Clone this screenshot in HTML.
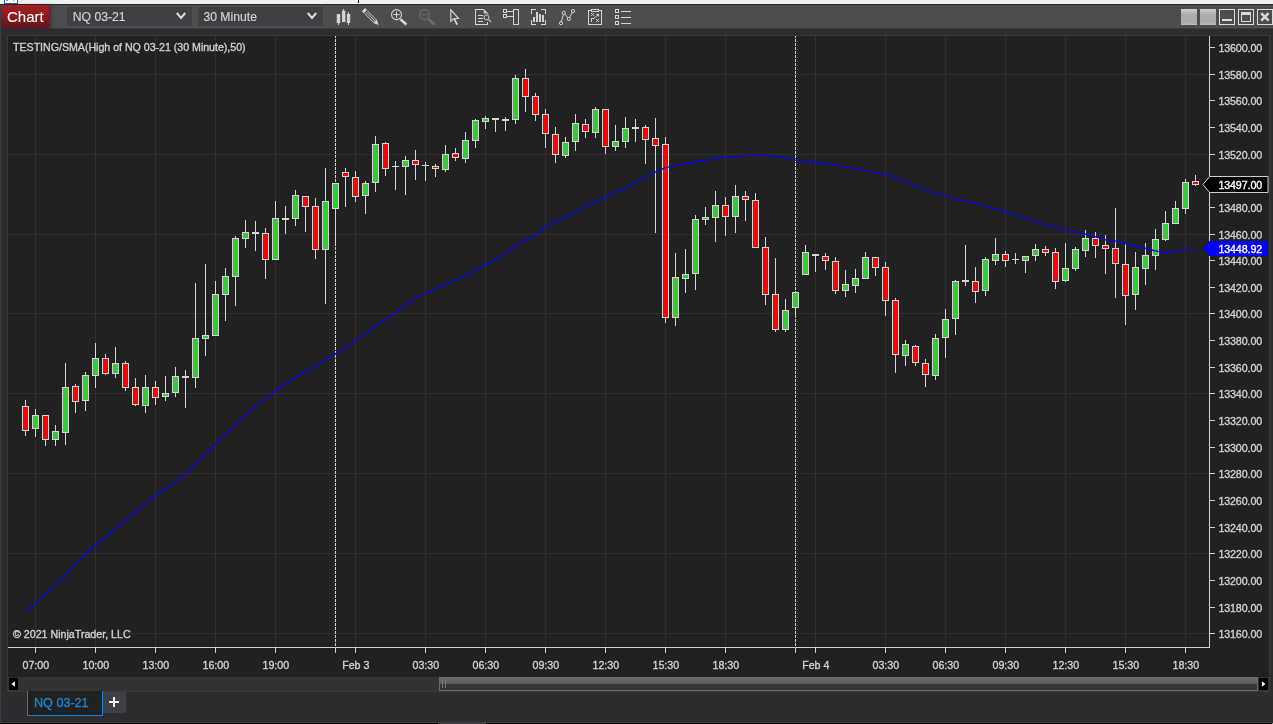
<!DOCTYPE html>
<html lang="en"><head><meta charset="utf-8"><title>Chart - NQ 03-21</title>
<style>

html,body{margin:0;padding:0;background:#2d2d30;}
body{width:1273px;height:724px;position:relative;overflow:hidden;font-family:"Liberation Sans",Arial,sans-serif;color:#cfcfcf;}
#root{position:absolute;left:0;top:0;width:1273px;height:724px;overflow:hidden;background:#2d2d30;}
.abs{position:absolute;}
.t{position:absolute;white-space:nowrap;line-height:1;-webkit-text-stroke:0.35px currentColor;}
.ax{font-size:10.67px;letter-spacing:-0.1px;color:#cfcfcf;}
.tl{font-size:10.67px;color:#cfcfcf;text-align:center;width:60px;margin-left:-30px;}
svg{position:absolute;left:0;top:0;}

</style></head><body><div id="root">
<div class="abs" style="left:0;top:0;width:1273px;height:4px;background:#f0f0f0"></div>
<div class="abs" style="left:4px;top:-6px;width:12px;height:8px;border:1px solid #0a6fd6;background:#fff"></div>
<div class="abs" style="left:6px;top:0;width:2px;height:1px;background:#ff7a3a"></div>
<div class="abs" style="left:13px;top:0;width:1px;height:1px;background:#ff7a3a"></div>
<div class="abs" style="left:358px;top:0;width:1px;height:3px;background:#000"></div>
<div class="abs" style="left:0;top:4px;width:1273px;height:1px;background:#2a2a2c"></div>
<div class="abs" style="left:0;top:5px;width:1273px;height:23px;background:#4d4d4d"></div>
<div class="abs" style="left:0;top:28px;width:1273px;height:1px;background:#3a3a3d"></div>
<div class="abs" style="left:0;top:4px;width:1px;height:720px;background:#3f3f44"></div>
<div class="abs" style="left:1px;top:5px;width:48px;height:23px;background:linear-gradient(#a41e22,#8c1a1f 45%,#62151a);box-shadow:2px 0 3px rgba(0,0,0,.35)"></div>
<div class="t" style="left:7px;top:8.5px;font-size:15px;color:#fff;-webkit-text-stroke:0.1px #fff;">Chart</div>
<div class="abs" style="left:67px;top:7px;width:125px;height:19px;background:#3f3f46"></div>
<div class="t" style="left:72.8px;top:11px;font-size:12.2px;color:#d4d4d4;-webkit-text-stroke:0.15px currentColor;">NQ 03-21</div>
<div class="abs" style="left:198px;top:7px;width:125px;height:19px;background:#3f3f46"></div>
<div class="t" style="left:203.4px;top:11px;font-size:12.2px;color:#d4d4d4;-webkit-text-stroke:0.15px currentColor;">30 Minute</div>
<div class="abs" style="left:7px;top:35px;width:1263px;height:657px;background:#3a3a3c"></div>
<div class="abs" style="left:8px;top:36px;width:1261px;height:641px;background:#212121"></div>
<div class="abs" style="left:8px;top:677px;width:1261px;height:14px;background:#333333"></div>
<div class="abs" style="left:9px;top:678px;width:9px;height:12px;background:#000"></div>
<div class="abs" style="left:1259px;top:678px;width:9px;height:12px;background:#000"></div>
<div class="abs" style="left:439px;top:677px;width:819px;height:14px;box-sizing:border-box;border:1px solid #6a6a6a;background:linear-gradient(#6b6b6b 0,#595959 49%,#363636 50%,#343434 100%)"></div>
<div class="abs" style="left:27px;top:691px;width:76px;height:25px;box-sizing:border-box;border:1px solid #1383d6;border-top:none;background:#212121"></div>
<div class="t" style="left:34px;top:697px;font-size:12.6px;color:#1787dc;">NQ 03-21</div>
<div class="abs" style="left:103px;top:692px;width:23px;height:21px;background:#3f3f46"></div>
<div class="abs" style="left:0;top:722px;width:1272px;height:1px;background:#404044"></div>
<div class="abs" style="left:0;top:723px;width:1272px;height:1px;background:#000"></div>
<div class="abs" style="left:1272px;top:723px;width:1px;height:1px;background:#8a8a8a"></div>
<div class="abs" style="left:438px;top:723px;width:48px;height:1px;background:#3a3a3c"></div>
<div class="abs" style="left:1181px;top:9px;width:16px;height:16px;background:linear-gradient(#cfcfcf 0,#afabab 35%,#aeaaaa 85%,#c2c0c0 100%)"></div>
<div class="abs" style="left:1200px;top:9px;width:16px;height:16px;background:linear-gradient(#cfcfcf 0,#afabab 35%,#aeaaaa 85%,#c2c0c0 100%)"></div>
<svg width="1273" height="724" viewBox="0 0 1273 724">
<g shape-rendering="crispEdges">
<rect x="35" y="36" width="1" height="611" fill="#2f2f31"/>
<rect x="95" y="36" width="1" height="611" fill="#2f2f31"/>
<rect x="155" y="36" width="1" height="611" fill="#2f2f31"/>
<rect x="215" y="36" width="1" height="611" fill="#2f2f31"/>
<rect x="275" y="36" width="1" height="611" fill="#2f2f31"/>
<rect x="355" y="36" width="1" height="611" fill="#2f2f31"/>
<rect x="425" y="36" width="1" height="611" fill="#2f2f31"/>
<rect x="485" y="36" width="1" height="611" fill="#2f2f31"/>
<rect x="545" y="36" width="1" height="611" fill="#2f2f31"/>
<rect x="605" y="36" width="1" height="611" fill="#2f2f31"/>
<rect x="665" y="36" width="1" height="611" fill="#2f2f31"/>
<rect x="725" y="36" width="1" height="611" fill="#2f2f31"/>
<rect x="815" y="36" width="1" height="611" fill="#2f2f31"/>
<rect x="885" y="36" width="1" height="611" fill="#2f2f31"/>
<rect x="945" y="36" width="1" height="611" fill="#2f2f31"/>
<rect x="1005" y="36" width="1" height="611" fill="#2f2f31"/>
<rect x="1065" y="36" width="1" height="611" fill="#2f2f31"/>
<rect x="1125" y="36" width="1" height="611" fill="#2f2f31"/>
<rect x="1185" y="36" width="1" height="611" fill="#2f2f31"/>
<rect x="8" y="74" width="1201" height="1" fill="#2f2f31"/>
<rect x="8" y="154" width="1201" height="1" fill="#2f2f31"/>
<rect x="8" y="234" width="1201" height="1" fill="#2f2f31"/>
<rect x="8" y="313" width="1201" height="1" fill="#2f2f31"/>
<rect x="8" y="393" width="1201" height="1" fill="#2f2f31"/>
<rect x="8" y="473" width="1201" height="1" fill="#2f2f31"/>
<rect x="8" y="553" width="1201" height="1" fill="#2f2f31"/>
<rect x="8" y="633" width="1201" height="1" fill="#2f2f31"/>
<line x1="335.5" y1="36" x2="335.5" y2="647" stroke="#cfcfcf" stroke-width="1" stroke-dasharray="3 1" stroke-dashoffset="1"/>
<line x1="795.5" y1="36" x2="795.5" y2="647" stroke="#cfcfcf" stroke-width="1" stroke-dasharray="3 1" stroke-dashoffset="1"/>
</g>
<g shape-rendering="crispEdges">
<rect x="25" y="400" width="1" height="36" fill="#d6d6d6"/>
<rect x="22" y="406" width="7" height="25" fill="#d6d6d6"/>
<rect x="23" y="407" width="5" height="23" fill="#ff0000"/>
<rect x="35" y="409" width="1" height="28" fill="#d6d6d6"/>
<rect x="32" y="415" width="7" height="14" fill="#d6d6d6"/>
<rect x="33" y="416" width="5" height="12" fill="#32cd32"/>
<rect x="45" y="415" width="1" height="31" fill="#d6d6d6"/>
<rect x="42" y="415" width="7" height="25" fill="#d6d6d6"/>
<rect x="43" y="416" width="5" height="23" fill="#ff0000"/>
<rect x="55" y="425" width="1" height="21" fill="#d6d6d6"/>
<rect x="52" y="431" width="7" height="9" fill="#d6d6d6"/>
<rect x="53" y="432" width="5" height="7" fill="#32cd32"/>
<rect x="65" y="363" width="1" height="82" fill="#d6d6d6"/>
<rect x="62" y="387" width="7" height="46" fill="#d6d6d6"/>
<rect x="63" y="388" width="5" height="44" fill="#32cd32"/>
<rect x="75" y="384" width="1" height="29" fill="#d6d6d6"/>
<rect x="72" y="386" width="7" height="16" fill="#d6d6d6"/>
<rect x="73" y="387" width="5" height="14" fill="#ff0000"/>
<rect x="85" y="372" width="1" height="39" fill="#d6d6d6"/>
<rect x="82" y="375" width="7" height="26" fill="#d6d6d6"/>
<rect x="83" y="376" width="5" height="24" fill="#32cd32"/>
<rect x="95" y="343" width="1" height="45" fill="#d6d6d6"/>
<rect x="92" y="358" width="7" height="18" fill="#d6d6d6"/>
<rect x="93" y="359" width="5" height="16" fill="#32cd32"/>
<rect x="105" y="354" width="1" height="21" fill="#d6d6d6"/>
<rect x="102" y="358" width="7" height="16" fill="#d6d6d6"/>
<rect x="103" y="359" width="5" height="14" fill="#ff0000"/>
<rect x="115" y="347" width="1" height="31" fill="#d6d6d6"/>
<rect x="112" y="363" width="7" height="11" fill="#d6d6d6"/>
<rect x="113" y="364" width="5" height="9" fill="#32cd32"/>
<rect x="125" y="361" width="1" height="30" fill="#d6d6d6"/>
<rect x="122" y="363" width="7" height="25" fill="#d6d6d6"/>
<rect x="123" y="364" width="5" height="23" fill="#ff0000"/>
<rect x="135" y="378" width="1" height="28" fill="#d6d6d6"/>
<rect x="132" y="387" width="7" height="18" fill="#d6d6d6"/>
<rect x="133" y="388" width="5" height="16" fill="#ff0000"/>
<rect x="145" y="375" width="1" height="38" fill="#d6d6d6"/>
<rect x="142" y="387" width="7" height="19" fill="#d6d6d6"/>
<rect x="143" y="388" width="5" height="17" fill="#32cd32"/>
<rect x="155" y="381" width="1" height="24" fill="#d6d6d6"/>
<rect x="152" y="387" width="7" height="11" fill="#d6d6d6"/>
<rect x="153" y="388" width="5" height="9" fill="#ff0000"/>
<rect x="165" y="376" width="1" height="25" fill="#d6d6d6"/>
<rect x="162" y="393" width="7" height="4" fill="#d6d6d6"/>
<rect x="163" y="394" width="5" height="2" fill="#32cd32"/>
<rect x="175" y="367" width="1" height="30" fill="#d6d6d6"/>
<rect x="172" y="376" width="7" height="17" fill="#d6d6d6"/>
<rect x="173" y="377" width="5" height="15" fill="#32cd32"/>
<rect x="185" y="370" width="1" height="38" fill="#d6d6d6"/>
<rect x="182" y="376" width="7" height="2" fill="#d6d6d6"/>
<rect x="195" y="283" width="1" height="105" fill="#d6d6d6"/>
<rect x="192" y="338" width="7" height="40" fill="#d6d6d6"/>
<rect x="193" y="339" width="5" height="38" fill="#32cd32"/>
<rect x="205" y="264" width="1" height="92" fill="#d6d6d6"/>
<rect x="202" y="335" width="7" height="4" fill="#d6d6d6"/>
<rect x="203" y="336" width="5" height="2" fill="#32cd32"/>
<rect x="215" y="281" width="1" height="55" fill="#d6d6d6"/>
<rect x="212" y="294" width="7" height="42" fill="#d6d6d6"/>
<rect x="213" y="295" width="5" height="40" fill="#32cd32"/>
<rect x="225" y="268" width="1" height="53" fill="#d6d6d6"/>
<rect x="222" y="276" width="7" height="19" fill="#d6d6d6"/>
<rect x="223" y="277" width="5" height="17" fill="#32cd32"/>
<rect x="235" y="236" width="1" height="70" fill="#d6d6d6"/>
<rect x="232" y="238" width="7" height="39" fill="#d6d6d6"/>
<rect x="233" y="239" width="5" height="37" fill="#32cd32"/>
<rect x="245" y="220" width="1" height="28" fill="#d6d6d6"/>
<rect x="242" y="232" width="7" height="7" fill="#d6d6d6"/>
<rect x="243" y="233" width="5" height="5" fill="#32cd32"/>
<rect x="255" y="221" width="1" height="30" fill="#d6d6d6"/>
<rect x="252" y="232" width="7" height="2" fill="#d6d6d6"/>
<rect x="265" y="228" width="1" height="51" fill="#d6d6d6"/>
<rect x="262" y="233" width="7" height="27" fill="#d6d6d6"/>
<rect x="263" y="234" width="5" height="25" fill="#ff0000"/>
<rect x="275" y="201" width="1" height="59" fill="#d6d6d6"/>
<rect x="272" y="218" width="7" height="42" fill="#d6d6d6"/>
<rect x="273" y="219" width="5" height="40" fill="#32cd32"/>
<rect x="285" y="206" width="1" height="28" fill="#d6d6d6"/>
<rect x="282" y="218" width="7" height="2" fill="#d6d6d6"/>
<rect x="295" y="190" width="1" height="36" fill="#d6d6d6"/>
<rect x="292" y="195" width="7" height="24" fill="#d6d6d6"/>
<rect x="293" y="196" width="5" height="22" fill="#32cd32"/>
<rect x="305" y="196" width="1" height="36" fill="#d6d6d6"/>
<rect x="302" y="196" width="7" height="11" fill="#d6d6d6"/>
<rect x="303" y="197" width="5" height="9" fill="#ff0000"/>
<rect x="315" y="198" width="1" height="61" fill="#d6d6d6"/>
<rect x="312" y="206" width="7" height="44" fill="#d6d6d6"/>
<rect x="313" y="207" width="5" height="42" fill="#ff0000"/>
<rect x="325" y="168" width="1" height="136" fill="#d6d6d6"/>
<rect x="322" y="201" width="7" height="49" fill="#d6d6d6"/>
<rect x="323" y="202" width="5" height="47" fill="#32cd32"/>
<rect x="335" y="183" width="1" height="63" fill="#d6d6d6"/>
<rect x="332" y="183" width="7" height="26" fill="#d6d6d6"/>
<rect x="333" y="184" width="5" height="24" fill="#32cd32"/>
<rect x="345" y="168" width="1" height="39" fill="#d6d6d6"/>
<rect x="342" y="172" width="7" height="5" fill="#d6d6d6"/>
<rect x="343" y="173" width="5" height="3" fill="#ff0000"/>
<rect x="355" y="171" width="1" height="31" fill="#d6d6d6"/>
<rect x="352" y="177" width="7" height="20" fill="#d6d6d6"/>
<rect x="353" y="178" width="5" height="18" fill="#ff0000"/>
<rect x="365" y="181" width="1" height="33" fill="#d6d6d6"/>
<rect x="362" y="183" width="7" height="13" fill="#d6d6d6"/>
<rect x="363" y="184" width="5" height="11" fill="#32cd32"/>
<rect x="375" y="136" width="1" height="56" fill="#d6d6d6"/>
<rect x="372" y="144" width="7" height="39" fill="#d6d6d6"/>
<rect x="373" y="145" width="5" height="37" fill="#32cd32"/>
<rect x="385" y="142" width="1" height="34" fill="#d6d6d6"/>
<rect x="382" y="143" width="7" height="26" fill="#d6d6d6"/>
<rect x="383" y="144" width="5" height="24" fill="#ff0000"/>
<rect x="395" y="161" width="1" height="29" fill="#d6d6d6"/>
<rect x="392" y="166" width="7" height="1" fill="#d6d6d6"/>
<rect x="405" y="156" width="1" height="39" fill="#d6d6d6"/>
<rect x="402" y="160" width="7" height="7" fill="#d6d6d6"/>
<rect x="403" y="161" width="5" height="5" fill="#32cd32"/>
<rect x="415" y="150" width="1" height="30" fill="#d6d6d6"/>
<rect x="412" y="160" width="7" height="5" fill="#d6d6d6"/>
<rect x="413" y="161" width="5" height="3" fill="#ff0000"/>
<rect x="425" y="162" width="1" height="19" fill="#d6d6d6"/>
<rect x="422" y="165" width="7" height="1" fill="#d6d6d6"/>
<rect x="435" y="164" width="1" height="13" fill="#d6d6d6"/>
<rect x="432" y="166" width="7" height="3" fill="#d6d6d6"/>
<rect x="433" y="167" width="5" height="1" fill="#ff0000"/>
<rect x="445" y="145" width="1" height="27" fill="#d6d6d6"/>
<rect x="442" y="154" width="7" height="16" fill="#d6d6d6"/>
<rect x="443" y="155" width="5" height="14" fill="#32cd32"/>
<rect x="455" y="148" width="1" height="13" fill="#d6d6d6"/>
<rect x="452" y="153" width="7" height="5" fill="#d6d6d6"/>
<rect x="453" y="154" width="5" height="3" fill="#ff0000"/>
<rect x="465" y="132" width="1" height="31" fill="#d6d6d6"/>
<rect x="462" y="140" width="7" height="19" fill="#d6d6d6"/>
<rect x="463" y="141" width="5" height="17" fill="#32cd32"/>
<rect x="475" y="119" width="1" height="29" fill="#d6d6d6"/>
<rect x="472" y="120" width="7" height="21" fill="#d6d6d6"/>
<rect x="473" y="121" width="5" height="19" fill="#32cd32"/>
<rect x="485" y="116" width="1" height="13" fill="#d6d6d6"/>
<rect x="482" y="118" width="7" height="4" fill="#d6d6d6"/>
<rect x="483" y="119" width="5" height="2" fill="#32cd32"/>
<rect x="495" y="118" width="1" height="14" fill="#d6d6d6"/>
<rect x="492" y="118" width="7" height="2" fill="#d6d6d6"/>
<rect x="505" y="117" width="1" height="14" fill="#d6d6d6"/>
<rect x="502" y="119" width="7" height="2" fill="#d6d6d6"/>
<rect x="515" y="75" width="1" height="49" fill="#d6d6d6"/>
<rect x="512" y="78" width="7" height="42" fill="#d6d6d6"/>
<rect x="513" y="79" width="5" height="40" fill="#32cd32"/>
<rect x="525" y="69" width="1" height="43" fill="#d6d6d6"/>
<rect x="522" y="78" width="7" height="19" fill="#d6d6d6"/>
<rect x="523" y="79" width="5" height="17" fill="#ff0000"/>
<rect x="535" y="93" width="1" height="28" fill="#d6d6d6"/>
<rect x="532" y="96" width="7" height="19" fill="#d6d6d6"/>
<rect x="533" y="97" width="5" height="17" fill="#ff0000"/>
<rect x="545" y="109" width="1" height="39" fill="#d6d6d6"/>
<rect x="542" y="114" width="7" height="20" fill="#d6d6d6"/>
<rect x="543" y="115" width="5" height="18" fill="#ff0000"/>
<rect x="555" y="127" width="1" height="36" fill="#d6d6d6"/>
<rect x="552" y="134" width="7" height="21" fill="#d6d6d6"/>
<rect x="553" y="135" width="5" height="19" fill="#ff0000"/>
<rect x="565" y="137" width="1" height="21" fill="#d6d6d6"/>
<rect x="562" y="142" width="7" height="14" fill="#d6d6d6"/>
<rect x="563" y="143" width="5" height="12" fill="#32cd32"/>
<rect x="575" y="114" width="1" height="37" fill="#d6d6d6"/>
<rect x="572" y="123" width="7" height="19" fill="#d6d6d6"/>
<rect x="573" y="124" width="5" height="17" fill="#32cd32"/>
<rect x="585" y="119" width="1" height="19" fill="#d6d6d6"/>
<rect x="582" y="124" width="7" height="8" fill="#d6d6d6"/>
<rect x="583" y="125" width="5" height="6" fill="#ff0000"/>
<rect x="595" y="107" width="1" height="31" fill="#d6d6d6"/>
<rect x="592" y="109" width="7" height="24" fill="#d6d6d6"/>
<rect x="593" y="110" width="5" height="22" fill="#32cd32"/>
<rect x="605" y="109" width="1" height="45" fill="#d6d6d6"/>
<rect x="602" y="109" width="7" height="38" fill="#d6d6d6"/>
<rect x="603" y="110" width="5" height="36" fill="#ff0000"/>
<rect x="615" y="125" width="1" height="26" fill="#d6d6d6"/>
<rect x="612" y="141" width="7" height="6" fill="#d6d6d6"/>
<rect x="613" y="142" width="5" height="4" fill="#32cd32"/>
<rect x="625" y="117" width="1" height="31" fill="#d6d6d6"/>
<rect x="622" y="128" width="7" height="14" fill="#d6d6d6"/>
<rect x="623" y="129" width="5" height="12" fill="#32cd32"/>
<rect x="635" y="119" width="1" height="23" fill="#d6d6d6"/>
<rect x="632" y="127" width="7" height="2" fill="#d6d6d6"/>
<rect x="645" y="125" width="1" height="39" fill="#d6d6d6"/>
<rect x="642" y="127" width="7" height="13" fill="#d6d6d6"/>
<rect x="643" y="128" width="5" height="11" fill="#ff0000"/>
<rect x="655" y="118" width="1" height="115" fill="#d6d6d6"/>
<rect x="652" y="138" width="7" height="8" fill="#d6d6d6"/>
<rect x="653" y="139" width="5" height="6" fill="#ff0000"/>
<rect x="665" y="137" width="1" height="186" fill="#d6d6d6"/>
<rect x="662" y="144" width="7" height="174" fill="#d6d6d6"/>
<rect x="663" y="145" width="5" height="172" fill="#ff0000"/>
<rect x="675" y="253" width="1" height="73" fill="#d6d6d6"/>
<rect x="672" y="277" width="7" height="41" fill="#d6d6d6"/>
<rect x="673" y="278" width="5" height="39" fill="#32cd32"/>
<rect x="685" y="249" width="1" height="44" fill="#d6d6d6"/>
<rect x="682" y="274" width="7" height="5" fill="#d6d6d6"/>
<rect x="683" y="275" width="5" height="3" fill="#32cd32"/>
<rect x="695" y="215" width="1" height="75" fill="#d6d6d6"/>
<rect x="692" y="219" width="7" height="55" fill="#d6d6d6"/>
<rect x="693" y="220" width="5" height="53" fill="#32cd32"/>
<rect x="705" y="207" width="1" height="18" fill="#d6d6d6"/>
<rect x="702" y="217" width="7" height="3" fill="#d6d6d6"/>
<rect x="703" y="218" width="5" height="1" fill="#32cd32"/>
<rect x="715" y="191" width="1" height="51" fill="#d6d6d6"/>
<rect x="712" y="205" width="7" height="13" fill="#d6d6d6"/>
<rect x="713" y="206" width="5" height="11" fill="#32cd32"/>
<rect x="725" y="197" width="1" height="39" fill="#d6d6d6"/>
<rect x="722" y="205" width="7" height="12" fill="#d6d6d6"/>
<rect x="723" y="206" width="5" height="10" fill="#ff0000"/>
<rect x="735" y="185" width="1" height="48" fill="#d6d6d6"/>
<rect x="732" y="196" width="7" height="21" fill="#d6d6d6"/>
<rect x="733" y="197" width="5" height="19" fill="#32cd32"/>
<rect x="745" y="191" width="1" height="30" fill="#d6d6d6"/>
<rect x="742" y="196" width="7" height="4" fill="#d6d6d6"/>
<rect x="743" y="197" width="5" height="2" fill="#ff0000"/>
<rect x="755" y="193" width="1" height="55" fill="#d6d6d6"/>
<rect x="752" y="200" width="7" height="48" fill="#d6d6d6"/>
<rect x="753" y="201" width="5" height="46" fill="#ff0000"/>
<rect x="765" y="237" width="1" height="68" fill="#d6d6d6"/>
<rect x="762" y="247" width="7" height="48" fill="#d6d6d6"/>
<rect x="763" y="248" width="5" height="46" fill="#ff0000"/>
<rect x="775" y="258" width="1" height="74" fill="#d6d6d6"/>
<rect x="772" y="294" width="7" height="36" fill="#d6d6d6"/>
<rect x="773" y="295" width="5" height="34" fill="#ff0000"/>
<rect x="785" y="299" width="1" height="33" fill="#d6d6d6"/>
<rect x="782" y="310" width="7" height="20" fill="#d6d6d6"/>
<rect x="783" y="311" width="5" height="18" fill="#32cd32"/>
<rect x="795" y="292" width="1" height="26" fill="#d6d6d6"/>
<rect x="792" y="292" width="7" height="16" fill="#d6d6d6"/>
<rect x="793" y="293" width="5" height="14" fill="#32cd32"/>
<rect x="805" y="245" width="1" height="30" fill="#d6d6d6"/>
<rect x="802" y="252" width="7" height="23" fill="#d6d6d6"/>
<rect x="803" y="253" width="5" height="21" fill="#32cd32"/>
<rect x="815" y="254" width="1" height="18" fill="#d6d6d6"/>
<rect x="812" y="254" width="7" height="2" fill="#d6d6d6"/>
<rect x="825" y="253" width="1" height="17" fill="#d6d6d6"/>
<rect x="822" y="256" width="7" height="5" fill="#d6d6d6"/>
<rect x="823" y="257" width="5" height="3" fill="#ff0000"/>
<rect x="835" y="257" width="1" height="37" fill="#d6d6d6"/>
<rect x="832" y="261" width="7" height="30" fill="#d6d6d6"/>
<rect x="833" y="262" width="5" height="28" fill="#ff0000"/>
<rect x="845" y="270" width="1" height="27" fill="#d6d6d6"/>
<rect x="842" y="284" width="7" height="7" fill="#d6d6d6"/>
<rect x="843" y="285" width="5" height="5" fill="#32cd32"/>
<rect x="855" y="269" width="1" height="24" fill="#d6d6d6"/>
<rect x="852" y="278" width="7" height="8" fill="#d6d6d6"/>
<rect x="853" y="279" width="5" height="6" fill="#32cd32"/>
<rect x="865" y="252" width="1" height="27" fill="#d6d6d6"/>
<rect x="862" y="257" width="7" height="22" fill="#d6d6d6"/>
<rect x="863" y="258" width="5" height="20" fill="#32cd32"/>
<rect x="875" y="257" width="1" height="19" fill="#d6d6d6"/>
<rect x="872" y="257" width="7" height="11" fill="#d6d6d6"/>
<rect x="873" y="258" width="5" height="9" fill="#ff0000"/>
<rect x="885" y="262" width="1" height="54" fill="#d6d6d6"/>
<rect x="882" y="267" width="7" height="34" fill="#d6d6d6"/>
<rect x="883" y="268" width="5" height="32" fill="#ff0000"/>
<rect x="895" y="298" width="1" height="75" fill="#d6d6d6"/>
<rect x="892" y="300" width="7" height="55" fill="#d6d6d6"/>
<rect x="893" y="301" width="5" height="53" fill="#ff0000"/>
<rect x="905" y="340" width="1" height="26" fill="#d6d6d6"/>
<rect x="902" y="344" width="7" height="12" fill="#d6d6d6"/>
<rect x="903" y="345" width="5" height="10" fill="#32cd32"/>
<rect x="915" y="345" width="1" height="21" fill="#d6d6d6"/>
<rect x="912" y="346" width="7" height="17" fill="#d6d6d6"/>
<rect x="913" y="347" width="5" height="15" fill="#ff0000"/>
<rect x="925" y="359" width="1" height="28" fill="#d6d6d6"/>
<rect x="922" y="363" width="7" height="12" fill="#d6d6d6"/>
<rect x="923" y="364" width="5" height="10" fill="#ff0000"/>
<rect x="935" y="334" width="1" height="46" fill="#d6d6d6"/>
<rect x="932" y="338" width="7" height="38" fill="#d6d6d6"/>
<rect x="933" y="339" width="5" height="36" fill="#32cd32"/>
<rect x="945" y="309" width="1" height="49" fill="#d6d6d6"/>
<rect x="942" y="319" width="7" height="19" fill="#d6d6d6"/>
<rect x="943" y="320" width="5" height="17" fill="#32cd32"/>
<rect x="955" y="280" width="1" height="55" fill="#d6d6d6"/>
<rect x="952" y="281" width="7" height="38" fill="#d6d6d6"/>
<rect x="953" y="282" width="5" height="36" fill="#32cd32"/>
<rect x="965" y="245" width="1" height="41" fill="#d6d6d6"/>
<rect x="962" y="280" width="7" height="2" fill="#d6d6d6"/>
<rect x="975" y="267" width="1" height="36" fill="#d6d6d6"/>
<rect x="972" y="281" width="7" height="11" fill="#d6d6d6"/>
<rect x="973" y="282" width="5" height="9" fill="#ff0000"/>
<rect x="985" y="257" width="1" height="39" fill="#d6d6d6"/>
<rect x="982" y="259" width="7" height="32" fill="#d6d6d6"/>
<rect x="983" y="260" width="5" height="30" fill="#32cd32"/>
<rect x="995" y="238" width="1" height="27" fill="#d6d6d6"/>
<rect x="992" y="254" width="7" height="7" fill="#d6d6d6"/>
<rect x="993" y="255" width="5" height="5" fill="#32cd32"/>
<rect x="1005" y="251" width="1" height="16" fill="#d6d6d6"/>
<rect x="1002" y="254" width="7" height="7" fill="#d6d6d6"/>
<rect x="1003" y="255" width="5" height="5" fill="#ff0000"/>
<rect x="1015" y="253" width="1" height="11" fill="#d6d6d6"/>
<rect x="1012" y="259" width="7" height="1" fill="#d6d6d6"/>
<rect x="1025" y="256" width="1" height="17" fill="#d6d6d6"/>
<rect x="1022" y="256" width="7" height="5" fill="#d6d6d6"/>
<rect x="1023" y="257" width="5" height="3" fill="#32cd32"/>
<rect x="1035" y="244" width="1" height="17" fill="#d6d6d6"/>
<rect x="1032" y="249" width="7" height="7" fill="#d6d6d6"/>
<rect x="1033" y="250" width="5" height="5" fill="#32cd32"/>
<rect x="1045" y="246" width="1" height="10" fill="#d6d6d6"/>
<rect x="1042" y="249" width="7" height="4" fill="#d6d6d6"/>
<rect x="1043" y="250" width="5" height="2" fill="#ff0000"/>
<rect x="1055" y="248" width="1" height="41" fill="#d6d6d6"/>
<rect x="1052" y="252" width="7" height="30" fill="#d6d6d6"/>
<rect x="1053" y="253" width="5" height="28" fill="#ff0000"/>
<rect x="1065" y="243" width="1" height="39" fill="#d6d6d6"/>
<rect x="1062" y="268" width="7" height="13" fill="#d6d6d6"/>
<rect x="1063" y="269" width="5" height="11" fill="#32cd32"/>
<rect x="1075" y="247" width="1" height="24" fill="#d6d6d6"/>
<rect x="1072" y="249" width="7" height="20" fill="#d6d6d6"/>
<rect x="1073" y="250" width="5" height="18" fill="#32cd32"/>
<rect x="1085" y="230" width="1" height="27" fill="#d6d6d6"/>
<rect x="1082" y="238" width="7" height="13" fill="#d6d6d6"/>
<rect x="1083" y="239" width="5" height="11" fill="#32cd32"/>
<rect x="1095" y="232" width="1" height="26" fill="#d6d6d6"/>
<rect x="1092" y="238" width="7" height="8" fill="#d6d6d6"/>
<rect x="1093" y="239" width="5" height="6" fill="#ff0000"/>
<rect x="1105" y="235" width="1" height="39" fill="#d6d6d6"/>
<rect x="1102" y="245" width="7" height="4" fill="#d6d6d6"/>
<rect x="1103" y="246" width="5" height="2" fill="#ff0000"/>
<rect x="1115" y="208" width="1" height="90" fill="#d6d6d6"/>
<rect x="1112" y="248" width="7" height="16" fill="#d6d6d6"/>
<rect x="1113" y="249" width="5" height="14" fill="#ff0000"/>
<rect x="1125" y="244" width="1" height="81" fill="#d6d6d6"/>
<rect x="1122" y="264" width="7" height="32" fill="#d6d6d6"/>
<rect x="1123" y="265" width="5" height="30" fill="#ff0000"/>
<rect x="1135" y="252" width="1" height="58" fill="#d6d6d6"/>
<rect x="1132" y="267" width="7" height="28" fill="#d6d6d6"/>
<rect x="1133" y="268" width="5" height="26" fill="#32cd32"/>
<rect x="1145" y="243" width="1" height="42" fill="#d6d6d6"/>
<rect x="1142" y="255" width="7" height="14" fill="#d6d6d6"/>
<rect x="1143" y="256" width="5" height="12" fill="#32cd32"/>
<rect x="1155" y="229" width="1" height="41" fill="#d6d6d6"/>
<rect x="1152" y="239" width="7" height="17" fill="#d6d6d6"/>
<rect x="1153" y="240" width="5" height="15" fill="#32cd32"/>
<rect x="1165" y="211" width="1" height="30" fill="#d6d6d6"/>
<rect x="1162" y="223" width="7" height="17" fill="#d6d6d6"/>
<rect x="1163" y="224" width="5" height="15" fill="#32cd32"/>
<rect x="1175" y="201" width="1" height="23" fill="#d6d6d6"/>
<rect x="1172" y="208" width="7" height="16" fill="#d6d6d6"/>
<rect x="1173" y="209" width="5" height="14" fill="#32cd32"/>
<rect x="1185" y="179" width="1" height="35" fill="#d6d6d6"/>
<rect x="1182" y="182" width="7" height="27" fill="#d6d6d6"/>
<rect x="1183" y="183" width="5" height="25" fill="#32cd32"/>
<rect x="1195" y="175" width="1" height="11" fill="#d6d6d6"/>
<rect x="1192" y="181" width="7" height="4" fill="#d6d6d6"/>
<rect x="1193" y="182" width="5" height="2" fill="#ff0000"/>
<rect x="1209" y="36" width="1" height="612" fill="#d2d2d2"/>
<rect x="8" y="647" width="1202" height="1" fill="#d2d2d2"/>
<rect x="1210" y="47" width="5" height="1" fill="#d2d2d2"/>
<rect x="1210" y="74" width="5" height="1" fill="#d2d2d2"/>
<rect x="1210" y="100" width="5" height="1" fill="#d2d2d2"/>
<rect x="1210" y="127" width="5" height="1" fill="#d2d2d2"/>
<rect x="1210" y="154" width="5" height="1" fill="#d2d2d2"/>
<rect x="1210" y="180" width="5" height="1" fill="#d2d2d2"/>
<rect x="1210" y="207" width="5" height="1" fill="#d2d2d2"/>
<rect x="1210" y="234" width="5" height="1" fill="#d2d2d2"/>
<rect x="1210" y="260" width="5" height="1" fill="#d2d2d2"/>
<rect x="1210" y="287" width="5" height="1" fill="#d2d2d2"/>
<rect x="1210" y="313" width="5" height="1" fill="#d2d2d2"/>
<rect x="1210" y="340" width="5" height="1" fill="#d2d2d2"/>
<rect x="1210" y="367" width="5" height="1" fill="#d2d2d2"/>
<rect x="1210" y="393" width="5" height="1" fill="#d2d2d2"/>
<rect x="1210" y="420" width="5" height="1" fill="#d2d2d2"/>
<rect x="1210" y="447" width="5" height="1" fill="#d2d2d2"/>
<rect x="1210" y="473" width="5" height="1" fill="#d2d2d2"/>
<rect x="1210" y="500" width="5" height="1" fill="#d2d2d2"/>
<rect x="1210" y="527" width="5" height="1" fill="#d2d2d2"/>
<rect x="1210" y="553" width="5" height="1" fill="#d2d2d2"/>
<rect x="1210" y="580" width="5" height="1" fill="#d2d2d2"/>
<rect x="1210" y="607" width="5" height="1" fill="#d2d2d2"/>
<rect x="1210" y="633" width="5" height="1" fill="#d2d2d2"/>
<rect x="35" y="648" width="1" height="5" fill="#d2d2d2"/>
<rect x="95" y="648" width="1" height="5" fill="#d2d2d2"/>
<rect x="155" y="648" width="1" height="5" fill="#d2d2d2"/>
<rect x="215" y="648" width="1" height="5" fill="#d2d2d2"/>
<rect x="275" y="648" width="1" height="5" fill="#d2d2d2"/>
<rect x="355" y="648" width="1" height="5" fill="#d2d2d2"/>
<rect x="425" y="648" width="1" height="5" fill="#d2d2d2"/>
<rect x="485" y="648" width="1" height="5" fill="#d2d2d2"/>
<rect x="545" y="648" width="1" height="5" fill="#d2d2d2"/>
<rect x="605" y="648" width="1" height="5" fill="#d2d2d2"/>
<rect x="665" y="648" width="1" height="5" fill="#d2d2d2"/>
<rect x="725" y="648" width="1" height="5" fill="#d2d2d2"/>
<rect x="815" y="648" width="1" height="5" fill="#d2d2d2"/>
<rect x="885" y="648" width="1" height="5" fill="#d2d2d2"/>
<rect x="945" y="648" width="1" height="5" fill="#d2d2d2"/>
<rect x="1005" y="648" width="1" height="5" fill="#d2d2d2"/>
<rect x="1065" y="648" width="1" height="5" fill="#d2d2d2"/>
<rect x="1125" y="648" width="1" height="5" fill="#d2d2d2"/>
<rect x="1185" y="648" width="1" height="5" fill="#d2d2d2"/>
<rect x="335" y="648" width="1" height="5" fill="#d2d2d2"/>
<rect x="795" y="648" width="1" height="5" fill="#d2d2d2"/>
</g>
<polyline points="25.9,611.7 35.3,603.3 55.3,585.4 76.3,563.4 95.4,544.7 105.1,537.6 118.3,525.8 139.3,508.8 155.5,495.6 173.4,483.3 186.5,473.3 202.3,457.6 215.4,444.4 220.0,439.5 234.2,425.9 245.2,414.9 256.3,405.5 267.3,397.2 275.6,390.6 296.1,376.8 311.9,368.1 325.0,359.7 335.5,353.7 348.6,345.8 363.1,335.3 377.5,324.3 388.0,317.7 403.8,306.4 415.6,298.0 426.1,292.8 445.8,284.1 456.3,280.2 472.0,272.3 485.2,264.4 498.3,257.9 505.8,252.6 521.5,242.1 537.3,233.4 553.0,222.4 566.1,217.1 581.9,207.9 597.6,200.9 613.4,193.0 626.5,187.7 639.6,179.9 652.8,173.3 665.9,167.3 679.0,165.2 694.8,162.0 707.9,160.2 721.0,158.1 734.2,156.8 747.3,155.2 763.0,154.9 773.5,156.0 784.0,158.1 795.3,160.2 807.7,161.2 815.8,162.0 834.1,164.9 852.5,168.1 868.3,171.2 886.6,174.6 899.8,179.4 912.9,184.6 926.0,190.4 941.8,195.1 957.5,199.6 970.7,202.2 986.4,206.9 1002.2,210.6 1017.9,216.1 1036.3,221.9 1052.0,226.6 1065.2,229.8 1080.9,233.2 1094.0,236.3 1107.2,240.3 1117.7,241.3 1130.0,245.0 1140.0,247.0 1153.9,250.5 1165.5,253.0 1178.1,250.8 1195.5,248.9" fill="none" stroke="#0808e4" stroke-width="1.35" stroke-linejoin="round" stroke-linecap="round"/>
<polygon points="1203,184.5 1209.5,176.5 1268,176.5 1268,192.5 1209.5,192.5" fill="#000" stroke="#cfcfcf" stroke-width="1"/>
<polygon points="1203,248.5 1209.5,240.9 1268,240.9 1268,256.1 1209.5,256.1" fill="#0000ff"/>
<polygon points="11.4,684 14.9,681.2 14.9,686.8" fill="#fff"/>
<polygon points="1265.4,684 1261.9,681.2 1261.9,686.8" fill="#fff"/>
<rect x="442" y="680" width="1" height="8" fill="#7c7c7c"/><rect x="445" y="680" width="1" height="8" fill="#7c7c7c"/>
<rect x="109" y="701" width="10" height="2" fill="#f0f0f0"/><rect x="113" y="697" width="2" height="10" fill="#f0f0f0"/>
<polyline points="176.8,13 181,18 185.2,13" fill="none" stroke="#dcdcdc" stroke-width="2"/>
<polyline points="307.8,13 312,18 316.2,13" fill="none" stroke="#dcdcdc" stroke-width="2"/>
<g shape-rendering="crispEdges">
<g shape-rendering="geometricPrecision"><rect x="336.75" y="14" width="3.5" height="9" fill="#d4d4d4"/><rect x="342" y="10.7" width="3.4" height="11.3" fill="#d4d4d4"/><rect x="346.9" y="14" width="3.3" height="9" fill="#d4d4d4"/></g><rect x="338" y="14" width="1" height="11" fill="#d4d4d4"/><rect x="343" y="9" width="1" height="13" fill="#d4d4d4"/><rect x="348" y="12" width="1" height="13" fill="#d4d4d4"/>
<rect x="503.5" y="9.5" width="3" height="3" fill="none" stroke="#d4d4d4" stroke-width="1"/><rect x="503.5" y="14.5" width="3" height="3" fill="none" stroke="#d4d4d4" stroke-width="1"/><rect x="513.5" y="9.5" width="5" height="15" fill="none" stroke="#d4d4d4" stroke-width="1"/><rect x="507" y="10.5" width="6" height="1" fill="#d4d4d4"/><rect x="507" y="15.5" width="6" height="1" fill="#d4d4d4"/>
<rect x="531" y="9" width="5" height="1" fill="#d4d4d4"/><rect x="531" y="9" width="1" height="5" fill="#d4d4d4"/><rect x="541" y="9" width="5" height="1" fill="#d4d4d4"/><rect x="545" y="9" width="1" height="5" fill="#d4d4d4"/><rect x="531" y="24" width="5" height="1" fill="#d4d4d4"/><rect x="531" y="20" width="1" height="5" fill="#d4d4d4"/><rect x="541" y="24" width="5" height="1" fill="#d4d4d4"/><rect x="545" y="20" width="1" height="5" fill="#d4d4d4"/>
<rect x="533" y="17" width="2" height="5" fill="#d4d4d4"/><rect x="536" y="12" width="2" height="10" fill="#d4d4d4"/><rect x="539" y="14" width="2" height="8" fill="#d4d4d4"/><rect x="542" y="15" width="2" height="7" fill="#d4d4d4"/>
<rect x="615.5" y="9.5" width="3" height="3" fill="none" stroke="#d4d4d4" stroke-width="1"/><rect x="621" y="11" width="10" height="1" fill="#d4d4d4"/>
<rect x="615.5" y="15.5" width="3" height="3" fill="none" stroke="#d4d4d4" stroke-width="1"/><rect x="621" y="17" width="10" height="1" fill="#d4d4d4"/>
<rect x="615.5" y="21.5" width="3" height="3" fill="none" stroke="#d4d4d4" stroke-width="1"/><rect x="621" y="23" width="10" height="1" fill="#d4d4d4"/>
<rect x="475" y="9" width="9" height="1" fill="#d4d4d4"/><rect x="475" y="9" width="1" height="16" fill="#d4d4d4"/><rect x="475" y="24" width="13" height="1" fill="#d4d4d4"/><rect x="487" y="22" width="1" height="3" fill="#d4d4d4"/>
<rect x="478" y="15" width="4.5" height="1" fill="#d4d4d4"/><rect x="478" y="18" width="4.5" height="1" fill="#d4d4d4"/><rect x="478" y="21" width="4.5" height="1" fill="#d4d4d4"/>
<rect x="588" y="10" width="1" height="15" fill="#d4d4d4"/><rect x="601" y="10" width="1" height="15" fill="#d4d4d4"/><rect x="588" y="24" width="14" height="1" fill="#d4d4d4"/><rect x="588" y="10" width="3" height="1" fill="#d4d4d4"/><rect x="599" y="10" width="3" height="1" fill="#d4d4d4"/>
<rect x="591.5" y="9.5" width="7" height="2" fill="none" stroke="#d4d4d4" stroke-width="1"/>
<rect x="591" y="18" width="1" height="4" fill="#d4d4d4"/><rect x="591" y="18" width="3" height="1" fill="#d4d4d4"/>
</g>
<g fill="none" stroke="#d4d4d4" stroke-width="1">
<g transform="translate(371.2,17.4) rotate(-45)"><rect x="-2.3" y="-11" width="4.6" height="2.8" fill="#d4d4d4" stroke="none"/><line x1="-1.9" y1="-7.4" x2="-1.9" y2="5.6" stroke-width="0.9"/><line x1="0" y1="-7.4" x2="0" y2="5.6" stroke-width="0.9"/><line x1="1.9" y1="-7.4" x2="1.9" y2="5.6" stroke-width="0.9"/><polygon points="-2.4,5.4 2.4,5.4 0,10.6" fill="#d4d4d4" stroke="none"/></g>
<circle cx="396.5" cy="14.6" r="5" stroke-width="1.1"/><line x1="393.2" y1="14.6" x2="399.8" y2="14.6"/><line x1="396.5" y1="11.3" x2="396.5" y2="17.9"/><line x1="400.4" y1="19.2" x2="406.4" y2="24.4" stroke-width="2.6"/>
<g stroke="#707070"><circle cx="424.5" cy="14.6" r="5" stroke-width="1.1"/><line x1="421.2" y1="14.6" x2="427.8" y2="14.6"/><line x1="428.5" y1="19.2" x2="434.6" y2="24.4" stroke-width="2.6"/></g>
<polygon points="450.8,9.8 450.8,21.4 453.6,18.8 458.4,18.3" stroke-width="1.2"/><polygon points="453.3,18.9 456.3,24.9 457.9,24.3 455.1,18.5" fill="#d4d4d4" stroke="none"/>
<polygon points="483.6,9.2 488,13.6 483.6,13.6" fill="#d4d4d4" stroke="none" opacity="0.9"/><line x1="483.6" y1="9.3" x2="488.2" y2="13.9"/>
<circle cx="486.5" cy="17.4" r="2.5" fill="#4d4d4d"/><line x1="488.5" y1="19.6" x2="491" y2="21.9" stroke-width="1.2"/>
<polyline points="561,23.1 563.8,12.8 568.9,19 573,11"/>
<circle cx="561" cy="23.1" r="1.6" fill="#4d4d4d"/>
<circle cx="563.8" cy="12.8" r="1.6" fill="#4d4d4d"/>
<circle cx="568.9" cy="19" r="1.6" fill="#4d4d4d"/>
<circle cx="573" cy="11" r="1.6" fill="#4d4d4d"/>
<path d="M591,13l3,3m0,-3l-3,3M596,19l3,3m0,-3l-3,3" stroke-width="0.9"/>
<line x1="593.6" y1="18.5" x2="597.6" y2="15"/><polygon points="596,14 599,13.8 598.8,17" fill="#d4d4d4" stroke="none"/>
</g>
<rect x="1219.5" y="9.5" width="15" height="15" fill="none" stroke="#dcdcdc" stroke-width="1" shape-rendering="crispEdges"/>
<rect x="1238.5" y="9.5" width="15" height="15" fill="none" stroke="#dcdcdc" stroke-width="1" shape-rendering="crispEdges"/>
<rect x="1257.5" y="9.5" width="15" height="15" fill="none" stroke="#dcdcdc" stroke-width="1" shape-rendering="crispEdges"/>
<rect x="1222" y="19" width="10" height="2" fill="#e0e0e0"/>
<rect x="1241.5" y="13.5" width="9" height="8" fill="none" stroke="#d8d8d8" stroke-width="1"/><rect x="1241" y="12" width="10" height="3" fill="#d8d8d8"/>
<path d="M1261.2,13.2l7.4,7.4m0,-7.4l-7.4,7.4" stroke="#dadada" stroke-width="2.5" fill="none"/>
</svg>
<div class="t ax" style="left:13px;top:42px;letter-spacing:-0.03px">TESTING/SMA(High of NQ 03-21 (30 Minute),50)</div>
<div class="t ax" style="left:13px;top:629px;letter-spacing:0">© 2021 NinjaTrader, LLC</div>
<div class="t ax" style="left:1218.4px;top:43px">13600.00</div>
<div class="t ax" style="left:1218.4px;top:70px">13580.00</div>
<div class="t ax" style="left:1218.4px;top:96px">13560.00</div>
<div class="t ax" style="left:1218.4px;top:123px">13540.00</div>
<div class="t ax" style="left:1218.4px;top:150px">13520.00</div>
<div class="t ax" style="left:1218.4px;top:203px">13480.00</div>
<div class="t ax" style="left:1218.4px;top:230px">13460.00</div>
<div class="t ax" style="left:1218.4px;top:256px">13440.00</div>
<div class="t ax" style="left:1218.4px;top:283px">13420.00</div>
<div class="t ax" style="left:1218.4px;top:309px">13400.00</div>
<div class="t ax" style="left:1218.4px;top:336px">13380.00</div>
<div class="t ax" style="left:1218.4px;top:363px">13360.00</div>
<div class="t ax" style="left:1218.4px;top:389px">13340.00</div>
<div class="t ax" style="left:1218.4px;top:416px">13320.00</div>
<div class="t ax" style="left:1218.4px;top:443px">13300.00</div>
<div class="t ax" style="left:1218.4px;top:469px">13280.00</div>
<div class="t ax" style="left:1218.4px;top:496px">13260.00</div>
<div class="t ax" style="left:1218.4px;top:523px">13240.00</div>
<div class="t ax" style="left:1218.4px;top:549px">13220.00</div>
<div class="t ax" style="left:1218.4px;top:576px">13200.00</div>
<div class="t ax" style="left:1218.4px;top:603px">13180.00</div>
<div class="t ax" style="left:1218.4px;top:629px">13160.00</div>
<div class="t ax" style="left:1218.4px;top:180px;color:#fff">13497.00</div>
<div class="t ax" style="left:1218.4px;top:244px;color:#fff">13448.92</div>
<div class="t tl" style="left:35.8px;top:660px">07:00</div>
<div class="t tl" style="left:95.8px;top:660px">10:00</div>
<div class="t tl" style="left:155.8px;top:660px">13:00</div>
<div class="t tl" style="left:215.8px;top:660px">16:00</div>
<div class="t tl" style="left:275.8px;top:660px">19:00</div>
<div class="t tl" style="left:355.8px;top:660px">Feb 3</div>
<div class="t tl" style="left:425.8px;top:660px">03:30</div>
<div class="t tl" style="left:485.8px;top:660px">06:30</div>
<div class="t tl" style="left:545.8px;top:660px">09:30</div>
<div class="t tl" style="left:605.8px;top:660px">12:30</div>
<div class="t tl" style="left:665.8px;top:660px">15:30</div>
<div class="t tl" style="left:725.8px;top:660px">18:30</div>
<div class="t tl" style="left:815.8px;top:660px">Feb 4</div>
<div class="t tl" style="left:885.8px;top:660px">03:30</div>
<div class="t tl" style="left:945.8px;top:660px">06:30</div>
<div class="t tl" style="left:1005.8px;top:660px">09:30</div>
<div class="t tl" style="left:1065.8px;top:660px">12:30</div>
<div class="t tl" style="left:1125.8px;top:660px">15:30</div>
<div class="t tl" style="left:1185.8px;top:660px">18:30</div>
</div></body></html>
